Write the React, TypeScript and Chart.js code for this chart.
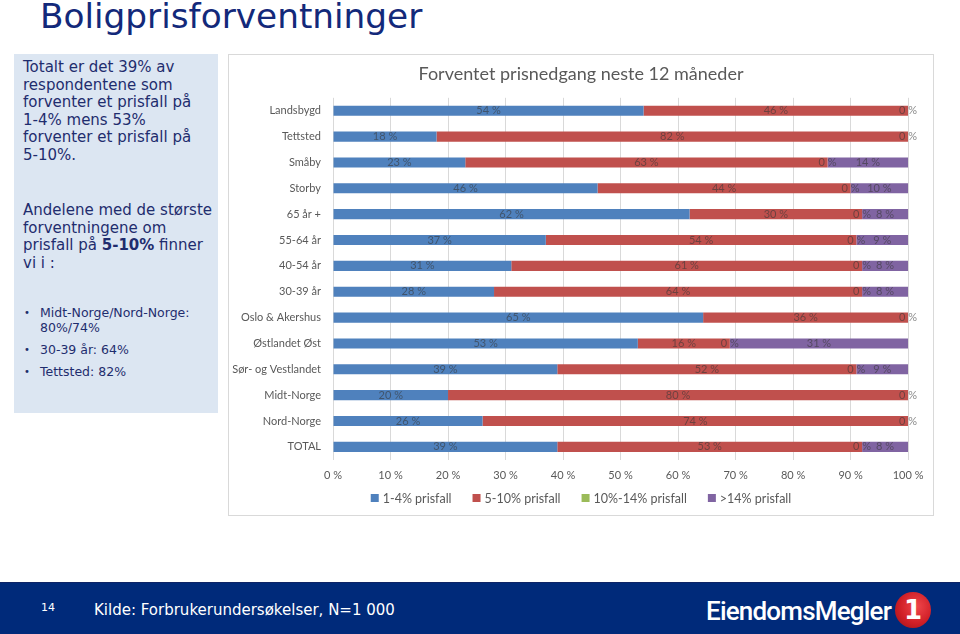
import React, { useEffect, useRef } from "react";
import { Chart, registerables } from "chart.js";

Chart.register(...registerables);

const categories = [
  "Landsbygd",
  "Tettsted",
  "Småby",
  "Storby",
  "65 år +",
  "55-64 år",
  "40-54 år",
  "30-39 år",
  "Oslo & Akershus",
  "Østlandet Øst",
  "Sør- og Vestlandet",
  "Midt-Norge",
  "Nord-Norge",
  "TOTAL",
];

const fall1to4 = [54, 18, 23, 46, 62, 37, 31, 28, 65, 53, 39, 20, 26, 39];
const fall5to10 = [46, 82, 63, 44, 30, 54, 61, 64, 36, 16, 52, 80, 74, 53];
const fall10to14 = [0, 0, 0, 0, 0, 0, 0, 0, 0, 0, 0, 0, 0, 0];
const fallOver14 = [0, 0, 14, 10, 8, 9, 8, 8, 0, 31, 9, 0, 0, 8];

const seriesNames = ["1-4% prisfall", "5-10% prisfall", "10%-14% prisfall", ">14% prisfall"];
const seriesColors = ["#4f81bd", "#c0504d", "#9bbb59", "#8064a2"];
const xTickValues = [0, 10, 20, 30, 40, 50, 60, 70, 80, 90, 100];

const chartTitle = "Forventet prisnedgang neste 12 måneder";

const CHART_FONT = "Lato, 'Open Sans', sans-serif";
const SLIDE_FONT = "'DejaVu Sans', Verdana, sans-serif";

const valueLabelPlugin = {
  id: "valueLabels",
  afterDatasetsDraw(chart: any) {
    const ctx = chart.ctx;
    ctx.save();
    ctx.font = `11px ${CHART_FONT}`;
    ctx.textAlign = "center";
    ctx.textBaseline = "middle";
    ctx.fillStyle = "rgba(55,55,55,0.6)";
    chart.data.datasets.forEach((ds: any, di: number) => {
      const meta = chart.getDatasetMeta(di);
      meta.data.forEach((bar: any, i: number) => {
        const raw = ds.rawValues[i];
        if (di === 3 && raw === 0) return;
        const cx = (bar.x + bar.base) / 2;
        ctx.fillText(`${raw} %`, cx, bar.y);
      });
    });
    ctx.restore();
  },
};

// Compact legend: same items as Chart.js' legend, drawn closer to the axis
const compactLegendPlugin = {
  id: "compactLegend",
  afterDraw(chart: any) {
    const ctx = chart.ctx;
    const box = 8;
    const gapBoxText = 4;
    const gapItems = 21;
    const y = chart.height - 17;
    ctx.save();
    ctx.font = `12.5px ${CHART_FONT}`;
    ctx.textBaseline = "middle";
    ctx.textAlign = "left";
    const items = chart.data.datasets.map((ds: any) => ({
      text: ds.label,
      color: ds.backgroundColor,
      w: box + gapBoxText + ctx.measureText(ds.label).width,
    }));
    const total = items.reduce((s: number, it: any) => s + it.w, 0) + gapItems * (items.length - 1);
    let x = chart.width / 2 - total / 2;
    items.forEach((it: any) => {
      ctx.fillStyle = it.color;
      ctx.fillRect(x, y - box / 2, box, box);
      ctx.fillStyle = "#595959";
      ctx.fillText(it.text, x + box + gapBoxText, y + 0.5);
      x += it.w + gapItems;
    });
    ctx.restore();
  },
};

function StackedChart() {
  const ref = useRef<HTMLCanvasElement | null>(null);
  useEffect(() => {
    if (!ref.current) return;
    const series = [fall1to4, fall5to10, fall10to14, fallOver14];
    const totals = categories.map((_, i) => series.reduce((s, arr) => s + arr[i], 0));
    const datasets = series.map((arr, si) => ({
      label: seriesNames[si],
      data: arr.map((v, i) => (v / totals[i]) * 100),
      rawValues: arr,
      backgroundColor: seriesColors[si],
      borderWidth: 0,
      barPercentage: 0.39,
      categoryPercentage: 1,
    }));
    const chart = new Chart(ref.current, {
      type: "bar",
      data: { labels: categories, datasets: datasets as any },
      plugins: [valueLabelPlugin, compactLegendPlugin],
      options: {
        indexAxis: "y",
        animation: false,
        responsive: false,
        maintainAspectRatio: false,
        layout: { autoPadding: false, padding: { left: 0, right: 0, top: 0, bottom: 23 } },
        plugins: {
          title: {
            display: true,
            text: chartTitle,
            color: "#595959",
            font: { family: CHART_FONT, size: 18, weight: "normal" },
            padding: { top: 8, bottom: 13.2 },
          },
          legend: { display: false },
          tooltip: { enabled: false },
        },
        scales: {
          x: {
            stacked: true,
            min: 0,
            max: 100,
            afterBuildTicks: (scale: any) => {
              scale.ticks = xTickValues.map((v) => ({ value: v }));
            },
            ticks: {
              callback: (v: any) => `${v} %`,
              color: "#595959",
              font: { family: CHART_FONT, size: 11 },
              padding: 9.5,
              maxRotation: 0,
            },
            grid: { color: "#d9d9d9", drawTicks: false },
            border: { display: false },
          },
          y: {
            stacked: true,
            afterFit: (scale: any) => {
              scale.width = 104;
            },
            ticks: {
              color: "#595959",
              font: { family: CHART_FONT, size: 11 },
              padding: 12,
              autoSkip: false,
            },
            grid: { display: false, drawTicks: false },
            border: { display: false },
          },
          yRight: {
            type: "category",
            position: "right",
            display: true,
            afterFit: (scale: any) => {
              scale.width = 23;
            },
            ticks: { display: false },
            grid: { display: false, drawTicks: false },
            border: { display: false },
          },
        },
      } as any,
    });
    return () => chart.destroy();
  }, []);
  return <canvas ref={ref} width={704} height={460} style={{ display: "block" }} />;
}

export default function App() {
  const bodyText: React.CSSProperties = {
    fontFamily: SLIDE_FONT,
    fontSize: 15,
    lineHeight: "17.6px",
    color: "#1f2d6e",
  };
  return (
    <div
      style={{
        position: "absolute",
        left: 0,
        top: 0,
        width: 960,
        height: 634,
        background: "#ffffff",
        overflow: "hidden",
      }}
    >
      <div
        style={{
          position: "absolute",
          left: 40,
          top: -4,
          fontFamily: SLIDE_FONT,
          fontSize: 34.3,
          color: "#13297a",
          whiteSpace: "nowrap",
        }}
      >
        Boligprisforventninger
      </div>

      <div
        style={{
          position: "absolute",
          left: 14,
          top: 54,
          width: 204,
          height: 359,
          background: "#dce6f2",
        }}
      >
        <div style={{ position: "absolute", left: 9, top: 5, width: 195, ...bodyText }}>
          <div>Totalt er det 39% av</div>
          <div>respondentene som</div>
          <div>forventer et prisfall på</div>
          <div>1-4% mens 53%</div>
          <div>forventer et prisfall på</div>
          <div>5-10%.</div>
        </div>
        <div style={{ position: "absolute", left: 9, top: 148, width: 195, ...bodyText }}>
          <div>Andelene med de største</div>
          <div>forventningene om</div>
          <div>
            prisfall på <b>5-10%</b> finner
          </div>
          <div>vi i :</div>
        </div>
        <div
          style={{
            position: "absolute",
            left: 10,
            top: 252,
            width: 194,
            fontFamily: SLIDE_FONT,
            fontSize: 12.5,
            lineHeight: "14.5px",
            color: "#1f2d6e",
          }}
        >
          {[
            ["Midt-Norge/Nord-Norge:", "80%/74%"],
            ["30-39 år: 64%"],
            ["Tettsted: 82%"],
          ].map((lines, i) => (
            <div key={i} style={{ position: "relative", paddingLeft: 16, marginBottom: 7.5 }}>
              <span style={{ position: "absolute", left: 0, top: 0, fontSize: 10 }}>•</span>
              {lines.map((l, j) => (
                <div key={j}>{l}</div>
              ))}
            </div>
          ))}
        </div>
      </div>

      <div
        style={{
          position: "absolute",
          left: 228,
          top: 54,
          width: 704,
          height: 460,
          border: "1px solid #d9d9d9",
          background: "#ffffff",
          overflow: "hidden",
        }}
      >
        <StackedChart />
      </div>

      <div
        style={{
          position: "absolute",
          left: 0,
          top: 582,
          width: 960,
          height: 52,
          background: "#002a7a",
          borderTop: "1px solid #0d2466",
        }}
      >
        <div
          style={{
            position: "absolute",
            left: 41,
            top: 18,
            fontFamily: SLIDE_FONT,
            fontSize: 11,
            color: "#ffffff",
          }}
        >
          14
        </div>
        <div
          style={{
            position: "absolute",
            left: 94,
            top: 18,
            fontFamily: SLIDE_FONT,
            fontSize: 15,
            color: "#ffffff",
            whiteSpace: "nowrap",
          }}
        >
          Kilde: Forbrukerundersøkelser, N=1 000
        </div>
        <div
          style={{
            position: "absolute",
            left: 706,
            top: 13,
            fontFamily: "Roboto, 'DejaVu Sans Condensed', sans-serif",
            fontWeight: 500,
            fontSize: 26,
            letterSpacing: -0.8,
            color: "#ffffff",
            whiteSpace: "nowrap",
          }}
        >
          EiendomsMegler
        </div>
        <div
          style={{
            position: "absolute",
            left: 895,
            top: 9,
            width: 36,
            height: 36,
            borderRadius: "50%",
            background: "radial-gradient(circle at 60% 40%, #f0464b 0%, #d01f27 55%, #9a1016 100%)",
            color: "#ffffff",
            fontFamily: "'DejaVu Sans', sans-serif",
            fontWeight: 700,
            fontSize: 26,
            lineHeight: "36px",
            textAlign: "center",
          }}
        >
          1
        </div>
      </div>
    </div>
  );
}
